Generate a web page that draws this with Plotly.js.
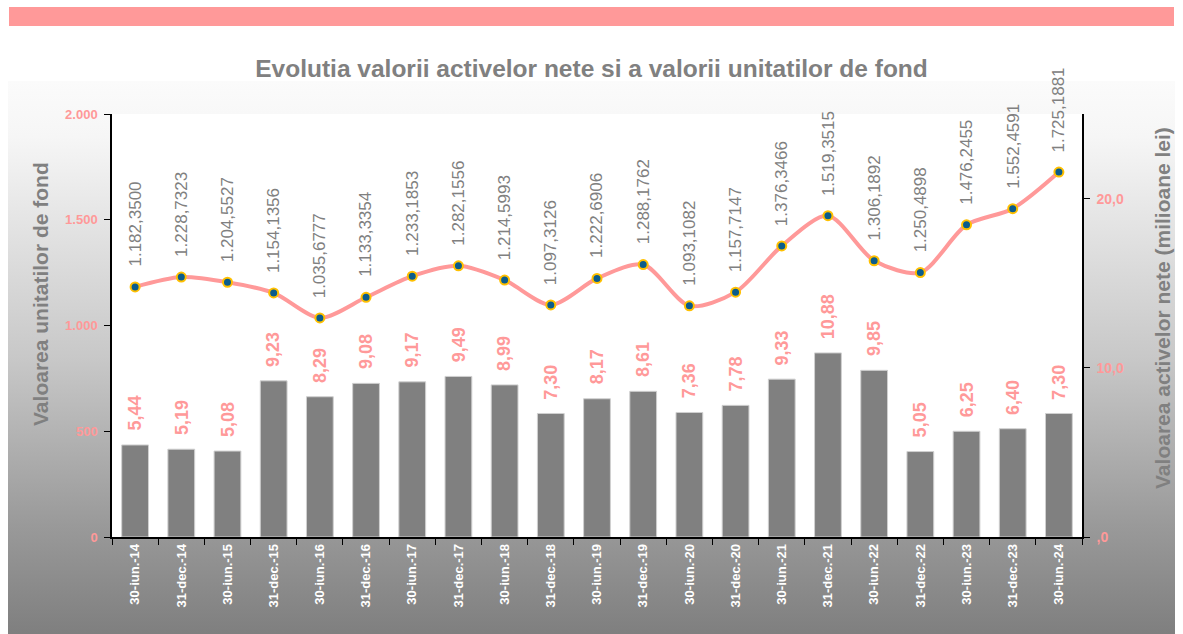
<!DOCTYPE html>
<html>
<head>
<meta charset="utf-8">
<script src="https://cdn.plot.ly/plotly-3.0.1.min.js"></script>
<style>
  html, body { margin: 0; padding: 0; background: #ffffff; }
  #wrap { position: relative; width: 1183px; height: 634px; overflow: hidden; }
  #band { position: absolute; left: 9px; top: 7px; width: 1165px; height: 19px; background: #ff9999; }
  #grad { position: absolute; left: 8px; top: 81px; width: 1167px; height: 553px;
          background: linear-gradient(to bottom, #fbfbfb 0%, #f6f6f6 10%, #c8c8c8 50%, #9a9a9a 80%, #7f7f7f 100%); }
  #chart { position: absolute; left: 0; top: 0; width: 1183px; height: 634px; }
</style>
</head>
<body>
<div id="wrap">
  <div id="band"></div>
  <div id="grad"></div>
  <div id="chart"></div>
</div>
<script>
const categories = ["30-iun.-14","31-dec.-14","30-iun.-15","31-dec.-15","30-iun.-16","31-dec.-16","30-iun.-17","31-dec.-17","30-iun.-18","31-dec.-18","30-iun.-19","31-dec.-19","30-iun.-20","31-dec.-20","30-iun.-21","31-dec.-21","30-iun.-22","31-dec.-22","30-iun.-23","31-dec.-23","30-iun.-24"];
const unitValues = [1182.3500,1228.7323,1204.5527,1154.1356,1035.6777,1133.3354,1233.1853,1282.1556,1214.5993,1097.3126,1222.6906,1288.1762,1093.1082,1157.7147,1376.3466,1519.3515,1306.1892,1250.4898,1476.2455,1552.4591,1725.1881];
const netAssets = [5.44,5.19,5.08,9.23,8.29,9.08,9.17,9.49,8.99,7.30,8.17,8.61,7.36,7.78,9.33,10.88,9.85,5.05,6.25,6.40,7.30];
const rightTickVals = [0, 10, 20];
const rightTickText = [",0", "10,0", "20,0"];
const titleText = "Evolutia valorii activelor nete si a valorii unitatilor de fond";
const leftTitle = "Valoarea unitatilor de fond";
const rightTitle = "Valoarea activelor nete (milioane lei)";

function fmtRo(v, dec) {
  const s = v.toFixed(dec);
  const parts = s.split(".");
  const intPart = parts[0].replace(/\B(?=(\d{3})+(?!\d))/g, ".");
  return parts.length > 1 ? intPart + "," + parts[1] : intPart;
}

const FONT = "'Liberation Sans Narrow', 'Liberation Sans', Arial, sans-serif";
const PINK = "#ff9999";
const GRAY = "#808080";

const barTrace = {
  type: "bar",
  x: categories,
  y: netAssets,
  yaxis: "y",
  width: 0.58,
  marker: { color: "#808080", line: { color: "#d0d0d0", width: 1 } },
  hoverinfo: "x+y",
  showlegend: false
};

const lineTrace = {
  type: "scatter",
  mode: "lines+markers",
  x: categories,
  y: unitValues,
  yaxis: "y2",
  line: { color: PINK, width: 4, shape: "spline", smoothing: 0.8 },
  marker: { color: "#0b5c8c", size: 9, line: { color: "#ffc000", width: 2 } },
  showlegend: false
};

const annotations = [];
categories.forEach((c, i) => {
  annotations.push({
    x: c, y: unitValues[i], xref: "x", yref: "y2",
    text: fmtRo(unitValues[i], 4), textangle: -90,
    showarrow: false, xanchor: "center", yanchor: "bottom", yshift: 18,
    font: { family: FONT, size: 17, color: GRAY }
  });
  annotations.push({
    x: c, y: netAssets[i], xref: "x", yref: "y",
    text: fmtRo(netAssets[i], 2), textangle: -90,
    showarrow: false, xanchor: "center", yanchor: "bottom", yshift: 12,
    font: { family: FONT, size: 18, color: PINK, weight: "bold" }
  });
});
// axis titles placed as annotations (positioned like the original)
annotations.push({
  xref: "paper", yref: "paper", x: -0.0732, y: 0.5745,
  text: leftTitle, textangle: -90, showarrow: false,
  xanchor: "center", yanchor: "middle",
  font: { family: FONT, size: 21, color: GRAY, weight: "bold" }
});
annotations.push({
  xref: "paper", yref: "paper", x: 1.0835, y: 0.5414,
  text: rightTitle, textangle: -90, showarrow: false,
  xanchor: "center", yanchor: "middle",
  font: { family: FONT, size: 21, color: GRAY, weight: "bold" }
});

const layout = {
  width: 1183, height: 634,
  margin: { l: 112, r: 101, t: 114, b: 97, pad: 0 },
  paper_bgcolor: "rgba(0,0,0,0)",
  plot_bgcolor: "#ffffff",
  separators: ",.",
  font: { family: FONT, color: GRAY },
  title: {
    text: titleText,
    x: 0.5, xref: "container", xanchor: "center",
    y: 1 - 68 / 634, yref: "container", yanchor: "middle",
    font: { family: FONT, size: 24.5, color: GRAY, weight: "bold" }
  },
  xaxis: {
    type: "category",
    showgrid: false, zeroline: false,
    showline: true, linecolor: "#000000", linewidth: 1.5,
    ticks: "outside", ticklen: 6, tickcolor: "#000000", tickwidth: 1.2,
    tickson: "boundaries",
    tickangle: -90,
    tickfont: { family: FONT, size: 13, color: "#ffffff", weight: "bold" },
    range: [-0.5, 20.5]
  },
  yaxis: {
    side: "right",
    range: [0, 25],
    tickvals: rightTickVals, ticktext: rightTickText,
    showgrid: false, zeroline: false,
    showline: true, linecolor: "#000000", linewidth: 1.5,
    ticks: "outside", ticklen: 6, tickcolor: "#000000", tickwidth: 1.2,
    tickfont: { family: FONT, size: 14, color: PINK, weight: "bold" },
    ticklabelstandoff: 4
  },
  yaxis2: {
    side: "left", overlaying: "y",
    range: [0, 2000], dtick: 500, tickformat: ",d",
    showgrid: false, zeroline: false,
    showline: true, linecolor: "#000000", linewidth: 1.5,
    ticks: "outside", ticklen: 6, tickcolor: "#000000", tickwidth: 1.2,
    tickfont: { family: FONT, size: 13, color: PINK, weight: "bold" },
    ticklabelstandoff: 4
  },
  annotations: annotations,
  showlegend: false
};

Plotly.newPlot("chart", [barTrace, lineTrace], layout, { displayModeBar: false, responsive: false });
</script>
</body>
</html>
